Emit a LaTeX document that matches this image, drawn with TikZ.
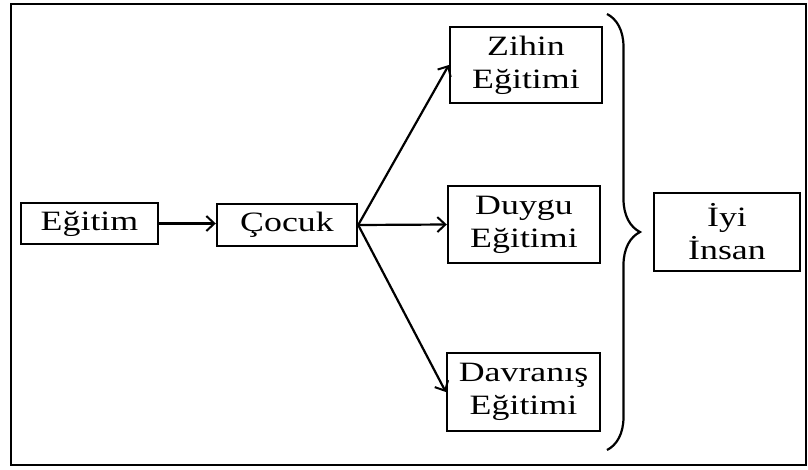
\documentclass[tikz,border=0pt]{standalone}
\usepackage{fontspec}
\setmainfont[FakeStretch=1.28]{Liberation Serif}
\usetikzlibrary{shapes, arrows, arrows.meta, decorations.pathreplacing}
\tikzstyle{block}=[draw, rectangle, line width=2.4pt, align=center, inner sep=0pt, font=\fontsize{28}{33}\selectfont]
\tikzstyle{link}=[-{Straight Barb[length=8pt, width=15pt, line width=2pt]}, line width=2.2pt]

\begin{document}
\begin{tikzpicture}[x=1pt, y=1pt]
		\useasboundingbox (0,0) rectangle (808,-469);
		\draw[line width=2.2pt] (11,-4) rectangle (806,-465);
		\node[block, minimum width=137pt, minimum height=41pt] (E) at (89.5,-223.5) {Eğitim};
		\node[block, minimum width=140pt, minimum height=42pt] (C) at (287,-225) {Çocuk};
		%---------------------
		\node[block, minimum width=152pt, minimum height=76pt] (Z) at (526,-65) {Zihin\\Eğitimi};
		\node[block, minimum width=152pt, minimum height=77pt] (D) at (524,-224.5) {Duygu\\Eğitimi};
		\node[block, minimum width=153pt, minimum height=78pt] (B) at (523.5,-392) {Davranış\\Eğitimi};
		\node[block, minimum width=146pt, minimum height=78pt] (I) at (727,-232) {İyi\\İnsan};
		%---------------------
		\draw[link] (E.east) -- (E.east -| C.west);
		\draw[link] (C.east) -- (Z.west);
		\draw[link] (C.east) -- (D.west);
		\draw[link] (C.east) -- (B.west);
		\coordinate (btop) at (607,-14);
		\coordinate (bbot) at (607,-450);
		\draw[line width=2.2pt, decorate, decoration={brace, amplitude=33pt}] (btop) -- (bbot);
	\end{tikzpicture}
\end{document}
